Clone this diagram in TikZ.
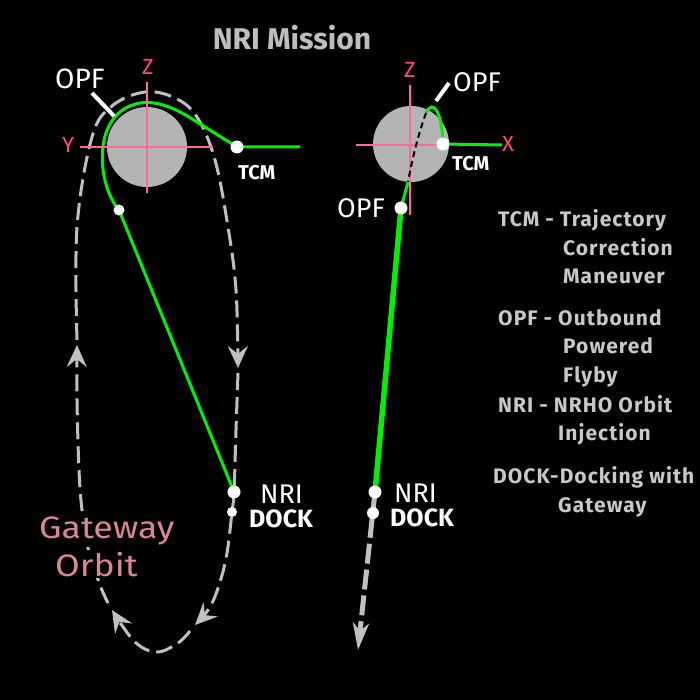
\documentclass[tikz,border=0pt]{standalone}
\usepackage{fontspec}
\setmainfont{Fira Sans}
\usetikzlibrary{arrows.meta}
\definecolor{orbitgray}{RGB}{192,192,192}
\definecolor{moongray}{RGB}{180,180,180}
\definecolor{trajgreen}{RGB}{0,240,0}
\definecolor{axispink}{RGB}{255,105,150}
\definecolor{labelpink}{RGB}{255,75,115}
\definecolor{legendgray}{RGB}{200,200,200}
\definecolor{titlegray}{RGB}{190,190,190}
\definecolor{gwcolor}{RGB}{218,135,145}
\begin{document}
\begin{tikzpicture}[x=1pt,y=-1pt,
  orbit/.style={draw=orbitgray, line width=3pt, dash pattern=on 17pt off 7pt},
  traj/.style={draw=trajgreen, line width=3pt},
  axisline/.style={draw=axispink, line width=2.5pt},
  dot/.style={circle, fill=white, inner sep=0pt, minimum size=13pt},
  smalldot/.style={circle, fill=white, inner sep=0pt, minimum size=10pt},
  moon/.style={circle, fill=moongray, inner sep=0pt},
  lbl/.style={text=white, font=\fontsize{27}{29}\selectfont, anchor=base west, inner sep=0pt},
  blbl/.style={text=white, font=\bfseries\fontsize{20}{22}\selectfont, anchor=base west, inner sep=0pt},
  axlbl/.style={text=labelpink, font=\fontsize{22}{24}\selectfont, anchor=base west, inner sep=0pt},
  legend/.style={text=legendgray, font=\bfseries\fontsize{21}{23}\selectfont\addfontfeature{LetterSpace=5}, anchor=base west, inner sep=0pt},
  gw/.style={text=gwcolor, font=\fontsize{31}{33}\selectfont, anchor=base west, fill=black, inner sep=2pt},
  tipbig/.style={-{Stealth[length=22pt,width=20pt,inset=8pt]}},
  pointer/.style={draw=white, line width=4pt},
]
\fill[black] (0,0) rectangle (700,700);
\useasboundingbox (0,0) rectangle (700,700);

% title
\node[text=titlegray, font=\bfseries\fontsize{30}{32}\selectfont] (title) at (292,38) {NRI Mission};

% ---------------- left diagram ----------------
\coordinate (tcmL) at (237,147);
\coordinate (tcmLend) at (300,147);
\coordinate (opfL) at (119,210);
\coordinate (nriL) at (234,492);
\coordinate (dockL) at (232,512);
\coordinate (yaxA) at (80,147);
\coordinate (yaxB) at (213,147);
\coordinate (zaxA) at (147,82);
\coordinate (zaxB) at (147,193);

% gateway orbit
\draw[orbit, tipbig] plot[smooth, tension=0.6] coordinates {(77,340) (77,227) (92,137) (112,106) (145,92) (175,98) (197,117) (215,160) (228,227) (236,290) (238,368)};
\draw[orbit, tipbig] plot[smooth, tension=0.6] coordinates {(238,373) (236,430) (234,492) (232,512) (227,553) (220,582) (210,607) (195,625)};
\draw[orbit, tipbig] plot[smooth, tension=0.6] coordinates {(190,631) (178,643) (157,652) (135,642) (112,610)};
\draw[orbit, tipbig] plot[smooth, tension=0.6] coordinates {(108,603) (100,585) (88,548) (82,510) (79,470) (77,400) (77,345)};

\node[gw] (gwa) at (37,538) {\scalebox{1.15}[1]{Gateway}};
\node[gw] (gwb) at (53,576) {\scalebox{1.15}[1]{Orbit}};

\node[moon, minimum size=80pt] (moonL) at (147,147) {};

% trajectory
\draw[traj] (nriL) -- (opfL) .. controls (97,185) and (90,112) .. (140,103) .. controls (160,100) and (180,111) .. (197,122) -- (tcmL) -- (tcmLend);

\draw[axisline] (yaxA) -- (yaxB);
\draw[axisline] (zaxA) -- (zaxB);

\node[dot] (tcmLdot) at (tcmL) {};
\node[circle, fill=white, inner sep=0pt, minimum size=11pt] (opfLdot) at (opfL) {};
\node[dot] (nriLdot) at (nriL) {};
\node[smalldot] (dockLdot) at (dockL) {};

\coordinate (ptrLa) at (92,93);
\coordinate (ptrLb) at (114,116);
\draw[pointer] (ptrLa) -- (ptrLb);

\node[lbl, font=\fontsize{28}{30}\selectfont] (opfLlbl) at (55,89) {OPF};
\node[axlbl] (zL) at (142,75) {Z};
\node[axlbl] (yL) at (62,153) {Y};
\node[blbl] (tcmLlbl) at (238,180) {TCM};
\node[lbl] (nriLlbl) at (260,503) {NRI};
\node[blbl, font=\bfseries\fontsize{25}{27}\selectfont] (dockLlbl) at (249,527) {DOCK};

% ---------------- right diagram ----------------
\coordinate (tcmR) at (443,144);
\coordinate (tcmRend) at (502,145);
\coordinate (opfR) at (401,208);
\coordinate (nriR) at (375,492);
\coordinate (dockR) at (373,513);
\coordinate (endR) at (358,650);
\coordinate (behindA) at (426,113);
\coordinate (behindB) at (408,182);
\coordinate (xaxA) at (356,145);
\coordinate (xaxB) at (440,145);
\coordinate (zRA) at (410,85);
\coordinate (zRB) at (410,215);

\node[moon, minimum size=76pt] (moonR) at (411,144) {};

\draw[axisline] (xaxA) -- (xaxB);
\draw[axisline] (zRA) -- (zRB);

\draw[traj] (tcmR) -- (tcmRend);
\draw[traj] (tcmR) .. controls (442,112) and (433,98) .. (behindA);
\draw[black, line width=2pt, dash pattern=on 6pt off 4pt] (behindA) .. controls (418,135) and (412,160) .. (behindB);
\draw[traj] (behindB) -- (opfR);
\draw[traj, line width=5.5pt] (opfR) -- (nriR);
\draw[orbitgray, line width=5pt, dash pattern=on 20pt off 6pt, -{Stealth[length=27pt,width=16pt,inset=8pt]}] (nriR) -- (endR);

\node[dot] (tcmRdot) at (tcmR) {};
\node[dot] (opfRdot) at (opfR) {};
\node[dot] (nriRdot) at (nriR) {};
\node[dot, minimum size=12pt] (dockRdot) at (dockR) {};

\coordinate (ptrRa) at (436,101);
\coordinate (ptrRb) at (449,83);
\draw[pointer] (ptrRa) -- (ptrRb);

\node[lbl] (opfRlbl) at (453,92) {OPF};
\node[lbl] (opfR2lbl) at (337,218) {OPF};
\node[axlbl] (zR) at (404,78) {Z};
\node[axlbl] (xR) at (502,152) {X};
\node[blbl] (tcmRlbl) at (452,171) {TCM};
\node[lbl] (nriRlbl) at (394,502) {NRI};
\node[blbl, font=\bfseries\fontsize{25}{27}\selectfont] (dockRlbl) at (390,526) {DOCK};

% ---------------- legend ----------------
\node[legend] (l1) at (498,227) {TCM - Trajectory};
\node[legend] (l2) at (563,255) {Correction};
\node[legend] (l3) at (563,283) {Maneuver};
\node[legend] (l4) at (498,325) {OPF - Outbound};
\node[legend] (l5) at (563,353) {Powered};
\node[legend] (l6) at (563,382) {Flyby};
\node[legend] (l7) at (498,412) {NRI - NRHO Orbit};
\node[legend] (l8) at (558,440) {Injection};
\node[legend] (l9) at (493,483) {DOCK-Docking with};
\node[legend] (l10) at (558,512) {Gateway};
\end{tikzpicture}
\end{document}
